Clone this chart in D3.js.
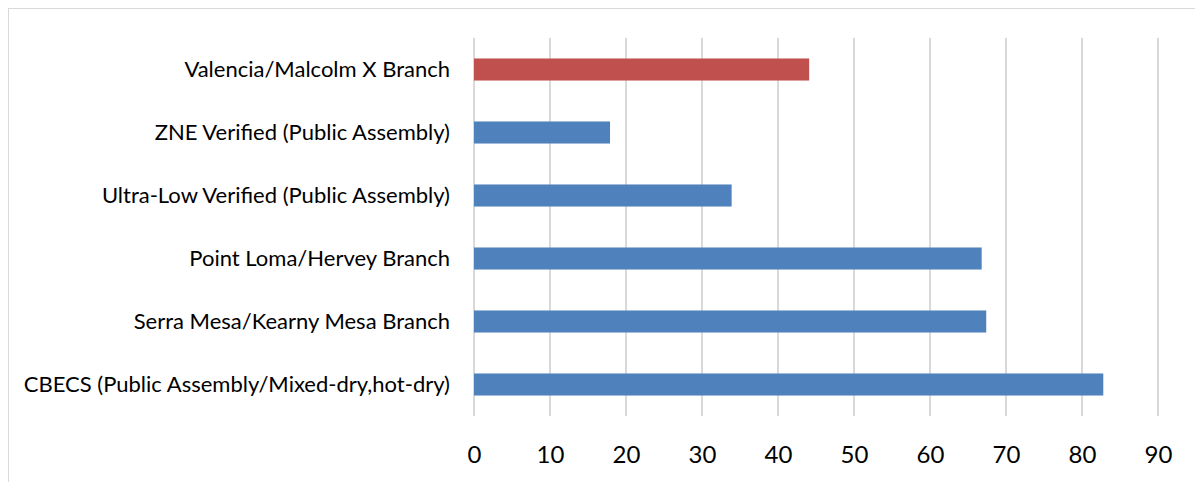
<!DOCTYPE html>
<html><head><meta charset="utf-8">
<script src="https://cdn.jsdelivr.net/npm/d3@7"></script>
<style>body{margin:0;background:#fff}svg{display:block}</style>
</head><body>
<svg id="c" width="1195" height="482"></svg>
<script>
const categories = [
  "Valencia/Malcolm X Branch",
  "ZNE Verified (Public Assembly)",
  "Ultra-Low Verified (Public Assembly)",
  "Point Loma/Hervey Branch",
  "Serra Mesa/Kearny Mesa Branch",
  "CBECS (Public Assembly/Mixed-dry,hot-dry)"
];
const values = [44.1, 17.9, 33.9, 66.8, 67.4, 82.8];
const highlight = ["Valencia/Malcolm X Branch"];
const xTicks = [0,10,20,30,40,50,60,70,80,90];

const svg = d3.select("#c");
const W = 1195, H = 482;
const m = {left:474, right:W-1158, top:38, bottom:H-416};

svg.append("rect").attr("x",8.5).attr("y",8.5).attr("width",1200).attr("height",500)
  .attr("fill","none").attr("stroke","#d9d9d9").attr("stroke-width",1);

const x = d3.scaleLinear().domain([0,90]).range([m.left, W-m.right]);
const y = d3.scaleBand().domain(categories).range([m.top, H-m.bottom]).paddingInner(0.65).paddingOuter(0.325);

const font = "Lato, 'Open Sans', sans-serif";

svg.append("g").selectAll("line").data(xTicks).join("line")
  .attr("x1",d=>x(d)).attr("x2",d=>x(d)).attr("y1",m.top).attr("y2",H-m.bottom)
  .attr("stroke","#d9d9d9").attr("stroke-width",2);

svg.append("g").selectAll("rect").data(categories).join("rect")
  .attr("x",x(0)).attr("y",d=>y(d)).attr("height",y.bandwidth())
  .attr("width",(d,i)=>x(values[i])-x(0))
  .attr("fill",d=>highlight.includes(d)?"#C0504D":"#4F81BD");

const xAxis = d3.axisBottom(x).tickValues(xTicks).tickSize(0).tickPadding(0);
const gx = svg.append("g").attr("transform",`translate(0,${H-m.bottom})`).call(xAxis);
gx.select(".domain").remove();
gx.selectAll("text").attr("font-family",font).attr("font-size",24).attr("fill","#000")
  .attr("dy",null).attr("y",47);

const yAxis = d3.axisLeft(y).tickSize(0).tickPadding(24);
const gy = svg.append("g").attr("transform",`translate(${m.left},0)`).call(yAxis);
gy.select(".domain").remove();
gy.selectAll("text").attr("font-family",font).attr("font-size",22).attr("fill","#000");
</script>
</body></html>
